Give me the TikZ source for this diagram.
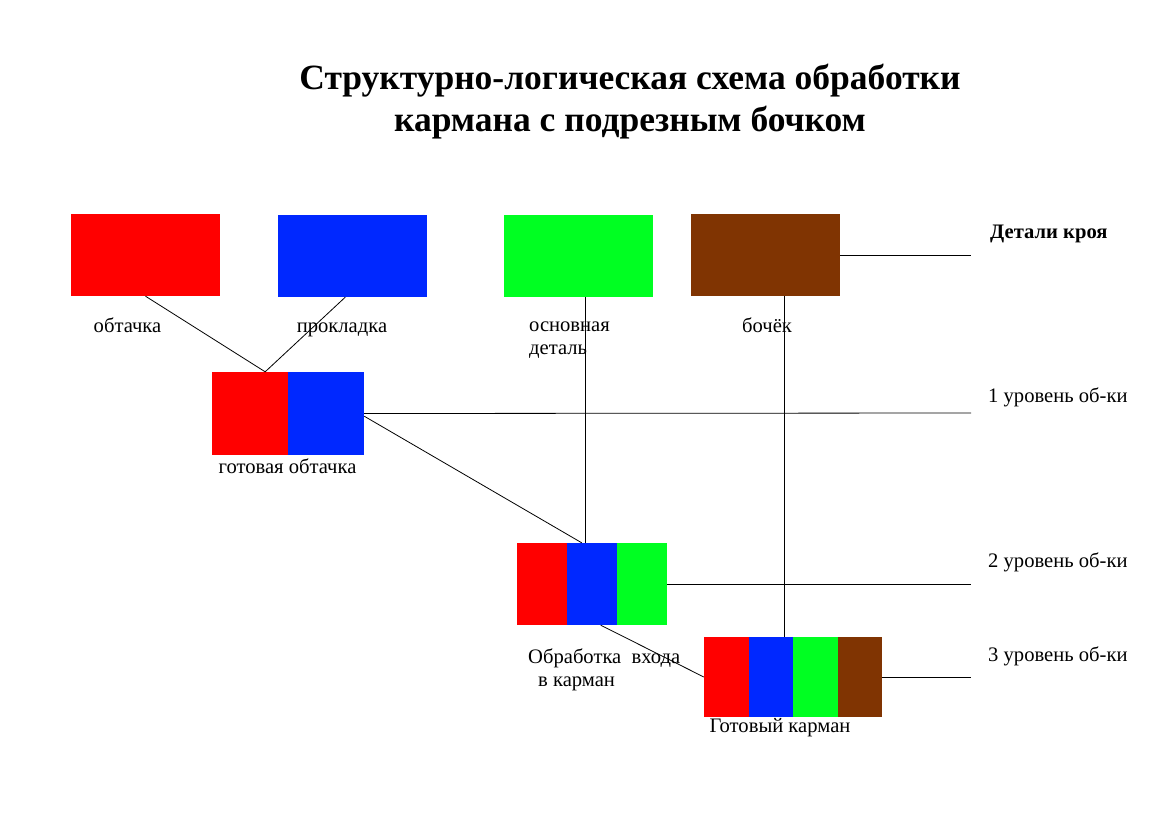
\documentclass[tikz,border=0pt]{standalone}
\usepackage{fontspec}
\setmainfont{Liberation Serif}
\definecolor{colorObt}{RGB}{255,0,0}
\definecolor{colorProk}{RGB}{0,40,255}
\definecolor{colorOsn}{RGB}{0,255,34}
\definecolor{colorBoch}{RGB}{128,52,2}
\usetikzlibrary{positioning}
\tikzset{
   part/.style={inner sep=0pt,minimum width=149pt,minimum height=82pt},
   strip/.style={inner sep=0pt,minimum width=#1,minimum height=82pt},
   link/.style={black,line width=0.8pt},
   lbl/.style={font=\fontsize{20.6}{23}\selectfont,inner sep=0pt,anchor=base},
   lvl/.style={lbl,anchor=base west},
   ttl/.style={font=\fontsize{35.5}{42}\selectfont\bfseries,align=center,inner sep=0pt},
}

\begin{document}
\begin{tikzpicture}[x=1pt,y=-1pt]
        \useasboundingbox (0,0) rectangle (1174,830);

        \node[ttl] (title) at (630,102) {Структурно-логическая схема обработки\\кармана с подрезным бочком};

        \node[part, fill=colorObt]  (obt)  at (145.5,255) {};
        \node[part, fill=colorProk] (prok) at (352.5,256) {};
        \node[part, fill=colorOsn]  (osn)  at (578,256) {};
        \node[part, fill=colorBoch] (boch) at (765.5,255) {};

        \node[lbl] (lobt)  at (127.5,332) {обтачка};
        \node[lbl] (lprok) at (342,332) {прокладка};
        \node[lbl, align=left, anchor=west] (losn) at (529,340) {основная\\деталь};
        \node[lbl] (lboch) at (767,332) {бочёк};

        \node[strip=76pt, minimum height=83pt, fill=colorObt]  (g1r) at (250,413.5) {};
        \node[strip=76pt, minimum height=83pt, fill=colorProk] (g1b) at (326,413.5) {};
        \node[lbl] (lg1) at (287.5,473) {готовая обтачка};

        \node[strip=50pt, fill=colorObt]  (g2r) at (542,584) {};
        \node[strip=50pt, fill=colorProk] (g2b) at (592,584) {};
        \node[strip=50pt, fill=colorOsn]  (g2g) at (642,584) {};
        \node[lbl, align=left, anchor=west] (lg2) at (528,670) {Обработка\ \ входа\\\hspace{10pt}в карман};

        \node[strip=44.5pt, minimum height=80pt, fill=colorObt]  (g3r)  at (726.25,677) {};
        \node[strip=44.5pt, minimum height=80pt, fill=colorProk] (g3b)  at (770.75,677) {};
        \node[strip=44.5pt, minimum height=80pt, fill=colorOsn]  (g3g)  at (815.25,677) {};
        \node[strip=44.5pt, minimum height=80pt, fill=colorBoch] (g3br) at (859.75,677) {};
        \node[lbl] (lg3) at (780,732) {Готовый карман};

        \coordinate (e0) at (971,255);
        \coordinate (e1) at (971,413);
        \coordinate (e2) at (971,584);
        \coordinate (e3) at (971,677);

        \node[lvl, font=\fontsize{20.6}{23}\selectfont\bfseries] (l0) at (990,238) {Детали кроя};
        \node[lvl] (l1) at (988,402) {1 уровень об-ки};
        \node[lvl] (l2) at (988,567) {2 уровень об-ки};
        \node[lvl] (l3) at (988,661) {3 уровень об-ки};

        \draw[link] (obt.south) -- (g1r.70);
        \draw[link] (prok.-100) -- (g1r.70);
        \draw[link] (g1b.east) -- (e1);
        \draw[link] (g1b.-4) -- (g2b.104);
        \draw[link] (osn.-80) -- (osn.-80 |- g2b.north);
        \draw[link] (g2g.east) -- (e2);
        \draw[link] (boch.east) -- (e0);
        \draw[link] (boch.-65) -- (boch.-65 |- g3b.north);
        \draw[link] (g2b.-78) -- (g3r.west);
        \draw[link] (g3br.east) -- (e3);
      \end{tikzpicture}
\end{document}
